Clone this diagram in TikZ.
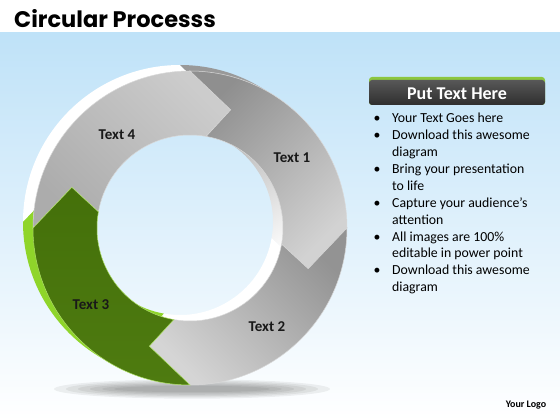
\documentclass[tikz,border=0pt]{standalone}
\usepackage{fontspec}
\setmainfont{Carlito}
\newfontfamily\titlefont{Poppins}
\definecolor{skyblue}{HTML}{BFE2F8}
\definecolor{leafgreen}{HTML}{4E7B10}
\definecolor{darkleaf}{HTML}{44700A}
\definecolor{limegreen}{HTML}{8FD52A}
\definecolor{headgreen}{HTML}{8CC63F}
\definecolor{darkbar}{HTML}{3A3A3A}
\newcommand{\ringseg}[2]{(#1:157) arc[start angle=#1, end angle=#2, radius=157]
  -- (#2-19:125) -- (#2-10:93) arc[start angle=#2-10, end angle=#1-10, radius=93]
  -- (#1-19:125) -- cycle}

\begin{document}
\begin{tikzpicture}[x=1pt,y=1pt,
  segedge/.style={draw=white!85!black, line width=0.5pt},
  seglabel/.style={font=\bfseries\fontsize{15}{17}\selectfont, text=black!90}]
\useasboundingbox (0,0) rectangle (560,420);

\fill[white] (0,0) rectangle (560,420);
\shade[top color=skyblue, bottom color=white] (0,0) rectangle (560,387);

\foreach \k in {1,...,6}
  \fill[black, opacity=0.06] (192,31) ellipse [x radius={150-12*\k}, y radius={11-1.3*\k}];

\begin{scope}[shift={(180,198)}]
\fill[white] \ringseg{180}{90};
\shade[top color=gray!80, bottom color=white, shading angle=30] \ringseg{90}{0};
\fill[white] \ringseg{0}{-90};
\fill[limegreen] \ringseg{-90}{-180};
\end{scope}

\begin{scope}[shift={(190,192)}]
\shade[segedge, top color=gray!40, bottom color=gray!65, shading angle=-45] \ringseg{180}{90};
\shade[segedge, top color=gray!88, bottom color=gray!35, shading angle=45] \ringseg{90}{0};
\shade[segedge, top color=gray!85, bottom color=gray!33, shading angle=-45] \ringseg{0}{-90};
\shade[draw=limegreen!70!white, line width=0.5pt, top color=darkleaf, bottom color=leafgreen] \ringseg{-90}{-180};
\end{scope}

\node (Text1) [seglabel] at (292,262) {Text 1};
\node (Text2) [seglabel] at (267,93) {Text 2};
\node (Text3) [seglabel] at (91,115) {Text 3};
\node (Text4) [seglabel] at (117,285) {Text 4};

\node (title) [anchor=base west, inner sep=0, font=\titlefont\bfseries\fontsize{22.5}{26}\selectfont] at (14,392) {Circular Processs};

\fill[headgreen, rounded corners=3] (369,315) rectangle (545,343);
\shade[top color=darkbar!85!white, bottom color=darkbar!80!black, rounded corners=3] (369,315) rectangle (545,340);
\node (header) [text=white, font=\bfseries\fontsize{18}{20}\selectfont] at (457,326.5) {Put Text Here};

\node (points) [anchor=north west, inner sep=0, font=\fontsize{13.8}{16.9}\selectfont, align=left] at (373.5,309.3) {%
\begin{tabular}{@{}p{18.5pt}@{}l@{}}
\textbullet & Your Text Goes here\\
\textbullet & Download this awesome\\
 & diagram\\
\textbullet & Bring your presentation\\
 & to life\\
\textbullet & Capture your audience’s\\
 & attention\\
\textbullet & All images are 100\%\\
 & editable in power point\\
\textbullet & Download this awesome\\
 & diagram
\end{tabular}};

\node (logo) [font=\bfseries\fontsize{10}{12}\selectfont] at (526,15) {Your Logo};
\end{tikzpicture}
\end{document}
